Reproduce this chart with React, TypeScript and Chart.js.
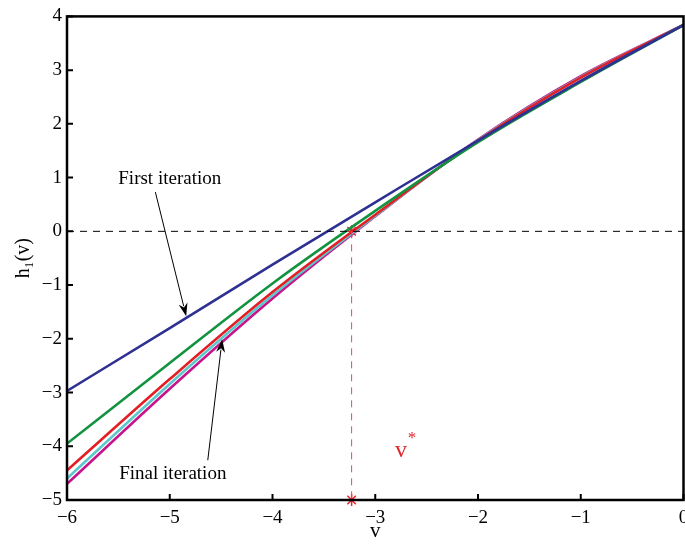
import { useEffect, useRef } from "react";
import { Chart, registerables } from "chart.js";

Chart.register(...registerables);

// ---- data ----
const vValues = [-6, -5, -4, -3, -2, -1, 0];
const iterFirst = [-2.97, -1.8, -0.62, 0.54, 1.69, 2.8, 3.84];
const iterSecond = [-3.95, -2.45, -0.97, 0.38, 1.66, 2.78, 3.84];
const iterThird = [-4.45, -2.75, -1.13, 0.31, 1.69, 2.86, 3.84];
const iterFourth = [-4.6, -2.84, -1.19, 0.29, 1.7, 2.87, 3.84];
const iterFinal = [-4.7, -2.93, -1.25, 0.28, 1.71, 2.89, 3.84];
const vStar = -3.23;
const xTickValues = [-6, -5, -4, -3, -2, -1, 0];
const yTickValues = [-5, -4, -3, -2, -1, 0, 1, 2, 3, 4];

const labelFirst = "First iteration";
const labelFinal = "Final iteration";
// annotation anchors in data coordinates
const firstText = { x: -5.0, y: 0.97 };
const firstArrow = { x0: -5.14, y0: 0.73, x1: -4.84, y1: -1.58 };
const finalText = { x: -4.97, y: -4.52 };
const finalArrow = { x0: -4.63, y0: -4.26, x1: -4.49, y1: -2.01 };
const vStarLabel = { x: -2.75, y: -4.08 };

const SERIF = "'Liberation Serif', 'DejaVu Serif', serif";
const fmt = (v: number) => (v < 0 ? "\u2212" + Math.abs(v) : String(v));

export default function App() {
  const ref = useRef<HTMLCanvasElement>(null);

  useEffect(() => {
    const canvas = ref.current;
    if (!canvas) return;
    const mk = (ys: number[]) => vValues.map((x, i) => ({ x, y: ys[i] }));

    const annotations = {
      id: "annotations",
      afterDatasetsDraw(chart: any) {
        const { ctx, chartArea: a, scales } = chart;
        const xs = scales.x;
        const ys = scales.y;
        const px = (v: number) => xs.getPixelForValue(v);
        const py = (v: number) => ys.getPixelForValue(v);
        ctx.save();

        // arrows
        const arrow = (x0: number, y0: number, x1: number, y1: number) => {
          const X0 = px(x0), Y0 = py(y0), X1 = px(x1), Y1 = py(y1);
          const ang = Math.atan2(Y1 - Y0, X1 - X0);
          const L = 13, W = 4.5;
          ctx.strokeStyle = "#000";
          ctx.fillStyle = "#000";
          ctx.lineWidth = 1;
          ctx.beginPath();
          ctx.moveTo(X0, Y0);
          ctx.lineTo(X1 - Math.cos(ang) * L * 0.8, Y1 - Math.sin(ang) * L * 0.8);
          ctx.stroke();
          const bx = X1 - Math.cos(ang) * L, by = Y1 - Math.sin(ang) * L;
          ctx.beginPath();
          ctx.moveTo(X1, Y1);
          ctx.lineTo(bx + Math.sin(ang) * W, by - Math.cos(ang) * W);
          ctx.lineTo(X1 - Math.cos(ang) * L * 0.7, Y1 - Math.sin(ang) * L * 0.7);
          ctx.lineTo(bx - Math.sin(ang) * W, by + Math.cos(ang) * W);
          ctx.closePath();
          ctx.fill();
        };
        arrow(firstArrow.x0, firstArrow.y0, firstArrow.x1, firstArrow.y1);
        arrow(finalArrow.x0, finalArrow.y0, finalArrow.x1, finalArrow.y1);

        // texts
        ctx.fillStyle = "#000";
        ctx.font = `19px ${SERIF}`;
        ctx.textAlign = "center";
        ctx.textBaseline = "middle";
        ctx.fillText(labelFirst, px(firstText.x), py(firstText.y));
        ctx.fillText(labelFinal, px(finalText.x), py(finalText.y));

        // v*
        ctx.fillStyle = "#E3262B";
        ctx.font = `24px ${SERIF}`;
        ctx.textAlign = "center";
        const vx = px(vStarLabel.x), vy = py(vStarLabel.y);
        ctx.fillText("v", vx, vy);
        ctx.font = `17px ${SERIF}`;
        ctx.fillText("*", vx + 11, vy - 12);

        // frame
        ctx.strokeStyle = "#000";
        ctx.lineWidth = 2.5;
        ctx.strokeRect(a.left, a.top, a.right - a.left, a.bottom - a.top);

        // inward ticks
        ctx.lineWidth = 2;
        ctx.beginPath();
        xTickValues.forEach((v) => {
          const X = px(v);
          ctx.moveTo(X, a.bottom);
          ctx.lineTo(X, a.bottom - 6);
        });
        yTickValues.forEach((v) => {
          const Y = py(v);
          ctx.moveTo(a.left, Y);
          ctx.lineTo(a.left + 6, Y);
        });
        ctx.stroke();
        ctx.restore();
      },
    };

    const lineDs = (label: string, ys: number[], color: string) => ({
      label,
      data: mk(ys),
      borderColor: color,
      backgroundColor: color,
      borderWidth: 2.6,
      pointRadius: 0,
      cubicInterpolationMode: "monotone" as const,
      fill: false,
    });

    const chart = new Chart(canvas, {
      type: "line",
      data: {
        datasets: [
          {
            label: "zero",
            data: [
              { x: xTickValues[0], y: 0 },
              { x: xTickValues[xTickValues.length - 1], y: 0 },
            ],
            borderColor: "#000",
            borderWidth: 1,
            borderDash: [7, 6],
            pointRadius: 0,
            fill: false,
          },
          {
            label: "vstar-line",
            data: [
              { x: vStar, y: 0 },
              { x: vStar, y: yTickValues[0] },
            ],
            borderColor: "#F0474C",
            borderWidth: 1,
            borderDash: [7, 6],
            pointRadius: 0,
            fill: false,
          },
          lineDs("Iteration 1", iterFirst, "#2E3192"),
          lineDs("Iteration 2", iterSecond, "#13923F"),
          lineDs("Iteration 3", iterThird, "#E31E24"),
          lineDs("Iteration 4", iterFourth, "#5CC8CC"),
          lineDs("Iteration 5", iterFinal, "#C8148C"),
          {
            label: "vstar-points",
            data: [
              { x: vStar, y: 0 },
              { x: vStar, y: yTickValues[0] },
            ],
            showLine: false,
            pointStyle: "star",
            pointRadius: 6,
            pointBorderWidth: 1.5,
            borderColor: "#E3262B",
            backgroundColor: "#E3262B",
            clip: false,
          } as any,
        ],
      },
      options: {
        animation: false,
        responsive: false,
        layout: { padding: { left: 0, right: 2, top: 13, bottom: 0 } },
        plugins: {
          legend: { display: false },
          tooltip: { enabled: false },
        },
        scales: {
          x: {
            type: "linear",
            min: -6,
            max: 0,
            afterBuildTicks: (s: any) => {
              s.ticks = xTickValues.map((v) => ({ value: v }));
            },
            afterFit: (s: any) => {
              s.height = 44;
              s.paddingRight = 0;
              s.paddingLeft = 0;
            },
            grid: { display: false, drawTicks: false },
            border: { display: false },
            ticks: {
              callback: (v: any) => fmt(Number(v)),
              color: "#000",
              font: { family: SERIF, size: 19 },
              padding: 7,
              maxRotation: 0,
              autoSkip: false,
            },
            title: {
              display: true,
              text: "v",
              color: "#000",
              font: { family: SERIF, size: 21 },
              padding: { top: 2, bottom: 0 },
            },
          },
          y: {
            type: "linear",
            min: -5,
            max: 4,
            afterBuildTicks: (s: any) => {
              s.ticks = yTickValues.map((v) => ({ value: v }));
            },
            afterFit: (s: any) => {
              s.width = 67;
            },
            grid: { display: false, drawTicks: false },
            border: { display: false },
            ticks: {
              callback: (v: any) => fmt(Number(v)),
              color: "#000",
              font: { family: SERIF, size: 19 },
              padding: 5,
              autoSkip: false,
            },
            title: {
              display: true,
              text: "h\u2081(v)",
              color: "#000",
              font: { family: SERIF, size: 20 },
              padding: { top: 12, bottom: 0 },
            },
          },
        },
      },
      plugins: [annotations],
    } as any);

    return () => chart.destroy();
  }, []);

  return (
    <div
      style={{
        position: "fixed",
        left: 0,
        top: 0,
        width: 685,
        height: 544,
        overflow: "hidden",
        background: "#fff",
      }}
    >
      <canvas ref={ref} width={691} height={544} style={{ width: 691, height: 544, display: "block" }} />
    </div>
  );
}
